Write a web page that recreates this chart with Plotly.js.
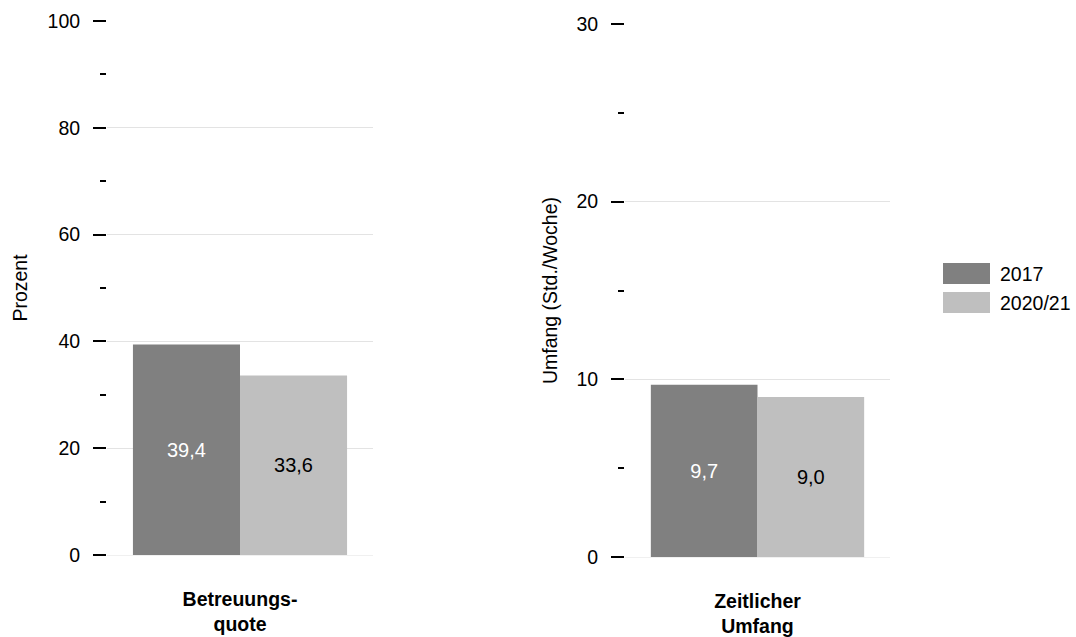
<!DOCTYPE html>
<html>
<head>
<meta charset="utf-8">
<script src="https://cdn.plot.ly/plotly-3.0.1.min.js"></script>
<style>html,body{margin:0;padding:0;background:#fff;}#chart{width:1076px;height:637px;}</style>
</head>
<body>
<div id="chart"></div>
<script>
// Data
const categoriesLeft = ['Betreuungs-<br>quote'];
const categoriesRight = ['Zeitlicher<br>Umfang'];
const years = ['2017', '2020/21'];
const betreuungsquote = [39.4, 33.6];   // Prozent
const zeitlicherUmfang = [9.7, 9.0];    // Std./Woche
const yTitleLeft = 'Prozent';
const yTitleRight = 'Umfang (Std./Woche)';

const colors = ['#808080', '#bfbfbf'];
const textColors = ['#ffffff', '#000000'];
const FONT = 'Liberation Sans, Arial, sans-serif';
const FS = 19.5;

const traces = [];
years.forEach((yr, i) => {
  traces.push({
    type: 'bar', name: yr, x: categoriesLeft, y: [betreuungsquote[i]],
    xaxis: 'x', yaxis: 'y', marker: {color: colors[i]},
    texttemplate: '%{y:.1f}', textposition: 'inside', insidetextanchor: 'middle',
    textfont: {family: FONT, size: 20, color: textColors[i]},
    showlegend: false, hoverinfo: 'skip', offsetgroup: String(i)
  });
  traces.push({
    type: 'bar', name: yr, x: categoriesRight, y: [zeitlicherUmfang[i]],
    xaxis: 'x2', yaxis: 'y2', marker: {color: colors[i]},
    texttemplate: '%{y:.1f}', textposition: 'inside', insidetextanchor: 'middle',
    textfont: {family: FONT, size: 20, color: textColors[i]},
    showlegend: false, hoverinfo: 'skip', offsetgroup: String(i)
  });
});

const W = 1076, H = 637;
const yCommon = {
  ticks: 'outside', ticklen: 13, tickwidth: 2, tickcolor: '#000',
  showgrid: true, gridcolor: '#e3e3e3', gridwidth: 1,
  zeroline: true, zerolinecolor: '#f0f0f0', showline: false,
  tickfont: {family: FONT, size: FS, color: '#000'},
  ticklabelstandoff: 9, automargin: false, fixedrange: true
};
const xCommon = {
  type: 'category', showgrid: false, zeroline: false, showline: false, ticks: '',
  tickfont: {family: FONT, size: FS, color: '#000', weight: 'bold'},
  ticklabelstandoff: 30, automargin: false, fixedrange: true
};

// custom legend (large swatches)
const shapes = [];
const annotations = [];
const legTop = [263, 292];
years.forEach((yr, i) => {
  shapes.push({type: 'rect', xref: 'paper', yref: 'paper',
    x0: 943 / W, x1: 990 / W, y0: 1 - (legTop[i] + 21) / H, y1: 1 - legTop[i] / H,
    fillcolor: colors[i], line: {width: 0}});
  annotations.push({xref: 'paper', yref: 'paper', x: 998 / W, y: 1 - (legTop[i] + 10.5) / H,
    xanchor: 'left', yanchor: 'middle', text: yr, showarrow: false,
    font: {family: FONT, size: FS, color: '#000'}});
});

const layout = {
  width: W, height: H,
  margin: {l: 0, r: 0, t: 0, b: 0},
  paper_bgcolor: '#fff', plot_bgcolor: '#fff',
  font: {family: FONT, size: FS, color: '#000'},
  separators: ',.',
  barmode: 'group', bargap: 0.195, bargroupgap: 0,
  showlegend: false,
  xaxis: Object.assign({}, xCommon, {domain: [107 / W, 373 / W], anchor: 'y'}),
  yaxis: Object.assign({}, yCommon, {
    domain: [(H - 555) / H, (H - 21) / H], anchor: 'x', range: [0, 100], dtick: 20,
    minor: {ticks: 'outside', ticklen: 6, tickwidth: 2, tickcolor: '#000', dtick: 10, showgrid: false},
    title: {text: yTitleLeft, font: {family: FONT, size: FS, color: '#000'}, standoff: 14.5}
  }),
  xaxis2: Object.assign({}, xCommon, {domain: [625 / W, 890 / W], anchor: 'y2'}),
  yaxis2: Object.assign({}, yCommon, {
    domain: [(H - 557) / H, (H - 24) / H], anchor: 'x2', range: [0, 30], dtick: 10,
    minor: {ticks: 'outside', ticklen: 6, tickwidth: 2, tickcolor: '#000', dtick: 5, showgrid: false},
    title: {text: yTitleRight, font: {family: FONT, size: FS, color: '#000'}, standoff: 13}
  }),
  shapes: shapes,
  annotations: annotations
};

Plotly.newPlot('chart', traces, layout, {displayModeBar: false, staticPlot: true});
</script>
</body>
</html>
